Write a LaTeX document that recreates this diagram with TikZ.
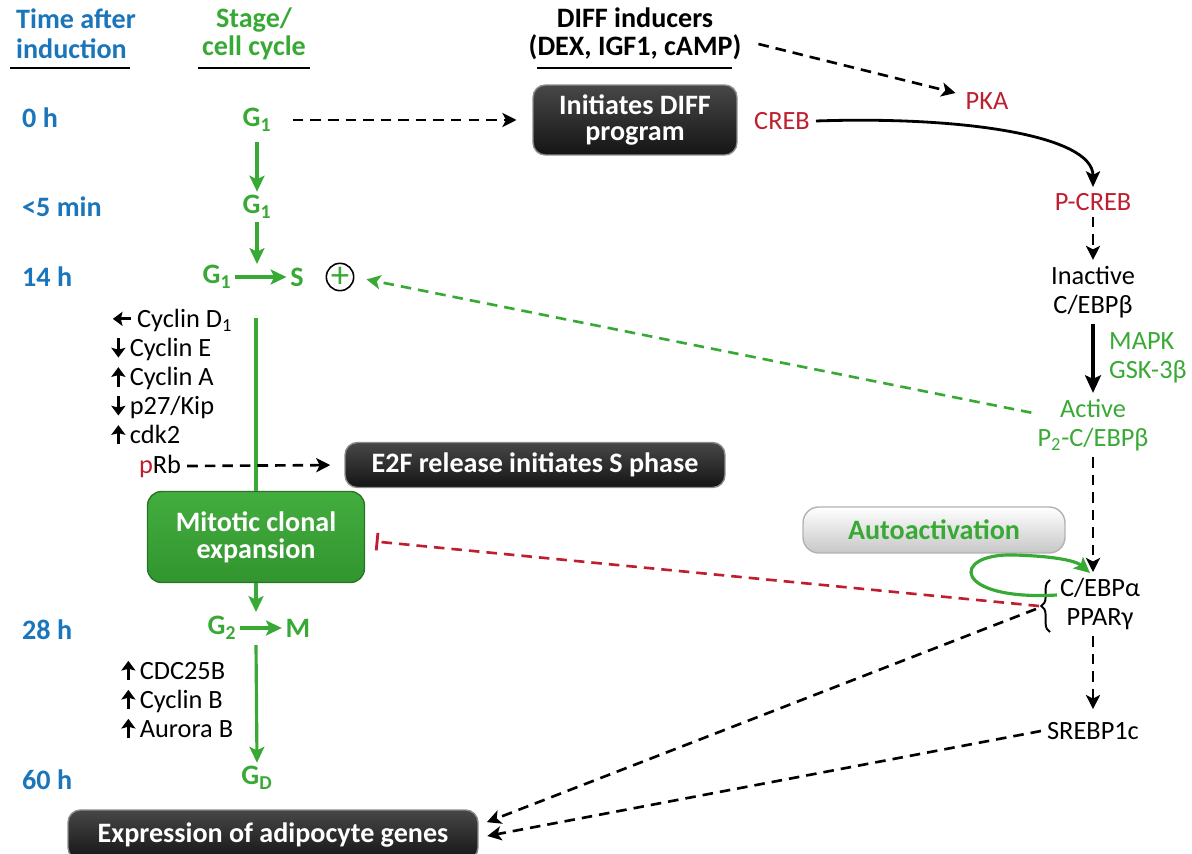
\documentclass[tikz,border=0pt]{standalone}
\usepackage{fontspec}
\setmainfont{Carlito}
\usetikzlibrary{arrows.meta,decorations.pathreplacing}

\definecolor{timeblue}{RGB}{27,117,187}
\definecolor{cellgreen}{RGB}{57,169,53}
\definecolor{credred}{RGB}{190,30,45}

% arrow glyphs for the regulator lists
\newcommand{\arup}{\tikz[baseline=0pt]\draw[line width=1.7pt,-{Stealth[length=5.5pt,width=8pt,inset=1pt]}] (0,-0.5pt) -- (0,10.5pt);\,}
\newcommand{\ardown}{\tikz[baseline=0pt]\draw[line width=1.7pt,-{Stealth[length=5.5pt,width=8pt,inset=1pt]}] (0,10.5pt) -- (0,-0.5pt);\,}
\newcommand{\arleft}{\tikz[baseline=0pt]\draw[line width=1.7pt,-{Stealth[length=5.5pt,width=8pt,inset=1pt]}] (10.5pt,5pt) -- (0,5pt);\,}

\tikzset{
  every node/.style={font=\fontsize{15}{16.5}\selectfont},
  timelbl/.style={anchor=west, text=timeblue, font=\bfseries\fontsize{16}{17}\selectfont},
  stagelbl/.style={text=cellgreen, font=\bfseries\fontsize{16}{17}\selectfont, inner sep=2pt},
  header/.style={font=\bfseries\fontsize{16}{16}\selectfont, align=center},
  darkbox/.style={rounded corners=7pt, top color=black!72, bottom color=black!92, draw=black!45,
    line width=0.8pt, text=white, align=center, font=\bfseries\fontsize{16}{15}\selectfont},
  greenbox/.style={rounded corners=8pt, top color=cellgreen!95!white, bottom color=cellgreen!88!black,
    draw=cellgreen!70!black, line width=0.8pt, text=white, align=center, font=\bfseries\fontsize{16}{15.5}\selectfont},
  greybox/.style={rounded corners=9pt, top color=white, bottom color=black!22, draw=black!30,
    line width=0.8pt, text=cellgreen, font=\bfseries\fontsize{16}{16}\selectfont},
  molred/.style={text=credred},
  molgreen/.style={text=cellgreen, align=center},
  garrow/.style={draw=cellgreen, line width=1.8pt, -{Stealth[length=9pt,width=8.5pt,inset=2pt]}},
  bdash/.style={line width=1.5pt, dash pattern=on 6pt off 4pt, -{Stealth[length=8pt,width=8pt,inset=2pt]}},
  gdash/.style={bdash, draw=cellgreen},
  inhib/.style={draw=credred, line width=1.5pt, dash pattern=on 6pt off 4pt, -{Bar[width=10pt,line width=1.6pt]}},
}

\begin{document}
\begin{tikzpicture}[x=0.02cm, y=-0.02cm]
  \useasboundingbox (0,0) rectangle (1192,854);

  % column headers
  \node[timelbl, align=left] (hdtime) at (10,34) {Time after\\induction};
  \node[header, text=cellgreen] (hdstage) at (254,34) {Stage/\\cell cycle};
  \node[header] (hddiff) at (635,34) {DIFF inducers\\(DEX, IGF1, cAMP)};
  \draw[line width=1.4pt] (10,68) -- (130,68);
  \draw[line width=1.4pt] (198,68) -- (310,68);
  \draw[line width=1.4pt] (537,68) -- (732,68);

  % time after induction
  \node[timelbl] (t0) at (16,118) {0 h};
  \node[timelbl] (t5) at (16,207) {<5 min};
  \node[timelbl] (t14) at (16,277) {14 h};
  \node[timelbl] (t28) at (16,630) {28 h};
  \node[timelbl] (t60) at (16,780) {60 h};

  % cell cycle stages
  \node[stagelbl] (g0) at (257,120) {G\textsubscript{1}};
  \node[stagelbl] (g5) at (257,207) {G\textsubscript{1}};
  \node[stagelbl] (g14) at (217,277) {G\textsubscript{1}};
  \node[stagelbl] (s14) at (297,277) {S};
  \node[circle, draw, line width=0.9pt, minimum size=15pt, inner sep=0pt, text=cellgreen,
    font=\fontsize{21}{21}\selectfont] (plus) at (340,277) {+};
  \node[stagelbl] (g28) at (222,628) {G\textsubscript{2}};
  \node[stagelbl] (m28) at (298,628) {M};
  \node[stagelbl] (gd) at (257,778) {G\textsubscript{D}};

  % boxes
  \node[darkbox, minimum width=4.08cm, minimum height=1.4cm] (diffprog) at (635,120) {Initiates DIFF\\program};
  \node[darkbox, minimum width=7.6cm, minimum height=0.9cm] (e2f) at (535,465) {E2F release initiates S phase};
  \node[darkbox, minimum width=8.2cm, minimum height=1cm] (adipo) at (273,835) {Expression of adipocyte genes};
  \node[greenbox, minimum width=4.34cm, minimum height=1.82cm] (mce) at (256,537) {Mitotic clonal\\expansion};
  \node[greybox, minimum width=5.24cm, minimum height=0.92cm] (autoact) at (934,530) {Autoactivation};

  % regulators along the cycle
  \node[anchor=north west, align=left, inner sep=0pt] (g1list) at (111,309)
    {\arleft Cyclin D\textsubscript{1}\\\ardown Cyclin E\\\arup Cyclin A\\\ardown p27/Kip\\\arup cdk2};
  \node (prb) at (160,466) {\textcolor{credred}{p}Rb};
  \node[anchor=north west, align=left, inner sep=0pt] (g2list) at (121,659)
    {\arup CDC25B\\\arup Cyclin B\\\arup Aurora B};

  % transcription cascade
  \node[molred] (creb) at (782,121) {CREB};
  \node[molred] (pka) at (987,101) {PKA};
  \node[molred] (pcreb) at (1093,202) {P-CREB};
  \node[align=center] (cebpb) at (1093,292) {Inactive\\C/EBPβ};
  \node[molgreen, align=left, anchor=west] (kinases) at (1103,358) {MAPK\\GSK-3β};
  \node[molgreen] (active) at (1093,425) {Active\\P\textsubscript{2}-C/EBPβ};
  \node[align=center] (cebpa) at (1100,604) {C/EBPα\\PPARγ};
  \node (srebp) at (1093,731) {SREBP1c};
  \coordinate (bracetip) at (1039,606);
  \draw[line width=1.1pt, decorate, decoration={brace, amplitude=5pt}] (1050,632) -- (1050,580);

  % cell cycle arrows
  \draw[garrow] ([yshift=-4pt]g0.south) -- (g5.north);
  \coordinate (gsjoin) at (257,264);
  \draw[garrow] (g5.south) -- (gsjoin);
  \draw[garrow] (g14.east) -- (s14.west);
  \coordinate (mcetop) at (256,318);
  \draw[draw=cellgreen, line width=1.8pt] (mcetop) -- (mce.north);
  \coordinate (gmjoin) at (256,612);
  \draw[garrow] (mce.south) -- (gmjoin);
  \draw[garrow] (g28.east) -- (m28.west);
  \coordinate (gmfoot) at (256,645);
  \draw[garrow] (gmfoot) -- (gd.north);

  % signalling arrows
  \draw[bdash, shorten <=10pt, shorten >=9pt] (g0.east) -- (diffprog.west);
  \draw[bdash] ([shift={(11,10)}]hddiff.east) -- ([shift={(-4,-8)}]pka.west);
  \draw[line width=1.6pt, -{Stealth[length=9pt,width=8pt,inset=2pt]}] (creb.east)
    .. controls (960,116) and (1093,135) .. (pcreb.north);
  \draw[bdash] (pcreb.south) -- (cebpb.north);
  \draw[line width=2pt, -{Stealth[length=10pt,width=9pt,inset=2pt]}] (cebpb.south) -- (active.north);
  \draw[bdash] (active.south) -- (active.south |- cebpa.north);
  \draw[bdash, shorten >=4pt] (srebp.north |- cebpa.south) -- (srebp.north);
  \draw[gdash, shorten >=7pt] ([yshift=7pt]active.west) -- (plus.east);
  \draw[bdash, shorten >=8pt] (prb.east) -- (e2f.west);

  % autoactivation loop
  \coordinate (loopstart) at (1057,595);
  \draw[draw=cellgreen, line width=1.8pt, -{Stealth[length=9pt,width=8.5pt,inset=2pt]}] (loopstart)
    .. controls (952,601) and (950,553) .. (1014,555) .. controls (1050,556) and (1075,560) .. (1090,573);

  % outputs of C/EBPa and PPARg
  \draw[inhib, shorten >=6pt] (bracetip) -- ([yshift=-2pt]mce.east);
  \draw[bdash, shorten >=5pt] ([shift={(-3,3)}]bracetip) -- ([yshift=5.5pt]adipo.east);
  \draw[bdash, shorten >=5pt] (srebp.west) -- ([yshift=-1.5pt]adipo.east);

\end{tikzpicture}
\end{document}
